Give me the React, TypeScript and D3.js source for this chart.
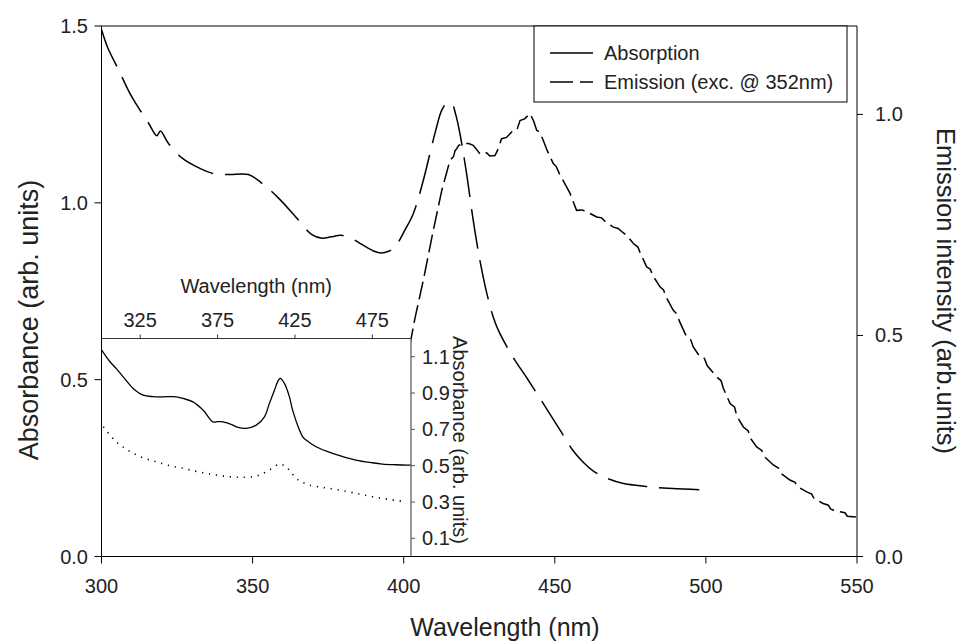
import React from 'react';
import * as d3 from 'd3';

const W = 959;
const H = 643;

// Main plot data: wavelength (nm), absorbance (arb. units, left axis)
const absorptionMain: [number, number][] = [
  [300, 1.49], [302, 1.44], [305.7, 1.375], [310, 1.3], [315.6, 1.225], [318.3, 1.19], [319.5, 1.203],
  [322, 1.17], [326.6, 1.127], [331, 1.104], [336.5, 1.084], [342, 1.08], [348.6, 1.08], [353, 1.056],
  [358.5, 1.014], [364, 0.963], [369.5, 0.911], [373, 0.9], [376, 0.904], [379.4, 0.908], [383, 0.898],
  [386, 0.883], [390, 0.864], [392.6, 0.858], [395, 0.863], [397, 0.874], [400.4, 0.923], [403.2, 0.97],
  [406.5, 1.064], [408.7, 1.14], [410.6, 1.205], [412.6, 1.262], [414.3, 1.282], [415.9, 1.281],
  [417.2, 1.25], [418.6, 1.196], [420.8, 1.083], [423, 0.951], [425.2, 0.838], [427.5, 0.744],
  [429.6, 0.678], [431.3, 0.64], [436, 0.566], [441.2, 0.499], [445.1, 0.447], [451.7, 0.358],
  [455.9, 0.301], [459, 0.27], [463, 0.24], [467, 0.222], [472.4, 0.207], [480.1, 0.198],
  [488.9, 0.192], [499.6, 0.188]
];

// Emission intensity (arb. units, right axis)
const emissionMain: [number, number][] = [
  [380, 0.02], [388, 0.08], [394, 0.2], [398, 0.33], [401, 0.44], [403.7, 0.538], [406.5, 0.625],
  [409.8, 0.738], [412.6, 0.828], [415.3, 0.896], [416.5, 0.905], [417, 0.918], [417.5, 0.922],
  [418.2, 0.93], [419.7, 0.934], [421.5, 0.934], [423, 0.93], [424, 0.922], [425.2, 0.911],
  [426.3, 0.91], [427.5, 0.913], [428.5, 0.906], [430.2, 0.907], [431, 0.918], [432.4, 0.945],
  [434, 0.948], [436.3, 0.964], [437.5, 0.966], [438.5, 0.986], [440, 0.99], [441.8, 1.002],
  [443, 0.985], [444, 0.964], [445, 0.96], [446.2, 0.941], [447.5, 0.918], [449.5, 0.889],
  [450.5, 0.882], [451.5, 0.866], [453.9, 0.836], [455, 0.822], [457.2, 0.783], [459, 0.784],
  [461, 0.778], [463.9, 0.768], [465.5, 0.766], [467, 0.755], [469.4, 0.745], [471, 0.742],
  [472.5, 0.733], [474, 0.725], [476, 0.708], [477.5, 0.7], [478.2, 0.688], [480.4, 0.655],
  [481.6, 0.65], [482.3, 0.637], [484.8, 0.61], [486, 0.603], [486.6, 0.59], [489.2, 0.557],
  [490.5, 0.548], [491.2, 0.533], [493.6, 0.497], [495, 0.49], [495.8, 0.474], [498, 0.452],
  [499.5, 0.448], [500.4, 0.432], [503.6, 0.406], [505, 0.398], [505.8, 0.38], [508, 0.346],
  [509.5, 0.338], [510.2, 0.318], [512.4, 0.293], [514, 0.284], [514.7, 0.268], [516.8, 0.248],
  [518.5, 0.24], [519.3, 0.226], [522.3, 0.207], [524, 0.2], [524.8, 0.188], [527.8, 0.173],
  [529.5, 0.168], [530.3, 0.158], [533.4, 0.146], [535, 0.141], [535.8, 0.131], [538.8, 0.12],
  [540.5, 0.116], [541.3, 0.107], [544.4, 0.101], [546, 0.099], [546.8, 0.091], [549.9, 0.089]
];

// Inset: solid absorbance curve
const insetSolid: [number, number][] = [
  [300.1, 1.136], [305.5, 1.072], [310, 1.03], [314, 0.989], [320.5, 0.925], [326.9, 0.888],
  [333.4, 0.88], [339.8, 0.879], [348.4, 0.879], [352.7, 0.87], [359.1, 0.851], [365.6, 0.806],
  [372, 0.741], [375, 0.742], [378.5, 0.741], [384.9, 0.723], [387.1, 0.714], [393.5, 0.705],
  [400, 0.723], [405.3, 0.769], [408.5, 0.843], [411.8, 0.916], [414, 0.965], [415.5, 0.98],
  [418.2, 0.953], [421.4, 0.88], [423.5, 0.806], [427.9, 0.696], [430, 0.659], [432.2, 0.641],
  [438.6, 0.604], [449.3, 0.568], [464.4, 0.531], [475, 0.516], [481.5, 0.509], [490, 0.505],
  [497.6, 0.503], [500, 0.503]
];

// Inset: dotted absorbance curve
const insetDotted: [number, number][] = [
  [301.2, 0.714], [308.7, 0.638], [314, 0.602], [320.5, 0.568], [328, 0.54], [335.6, 0.521],
  [344, 0.5], [352.7, 0.485], [360, 0.471], [367.8, 0.458], [375, 0.447], [382.8, 0.439],
  [390, 0.436], [397.8, 0.439], [402, 0.448], [406.4, 0.466], [411, 0.49], [415, 0.509],
  [418, 0.5], [421.4, 0.476], [425.7, 0.43], [430, 0.408], [434.3, 0.393], [443, 0.38],
  [453.6, 0.366], [465, 0.347], [475.1, 0.329], [486, 0.314], [496.6, 0.301]
];

const mainXTicks = [300, 350, 400, 450, 500, 550];
const leftYTicks = [0, 0.5, 1.0, 1.5];
const rightYTicks = [0, 0.5, 1.0];
const insetXTicks = [325, 375, 425, 475];
const insetYTicks = [0.1, 0.3, 0.5, 0.7, 0.9, 1.1];

const legendLabels = ['Absorption', 'Emission (exc. @ 352nm)'];

const FONT = "'Liberation Sans', Arial, Helvetica, sans-serif";

export default function App() {
  const L = 101.5, R = 857, T = 26, B = 556.5;
  const x = d3.scaleLinear().domain([300, 550]).range([L, R]);
  const yL = d3.scaleLinear().domain([0, 1.5]).range([B, T]);
  const yR = d3.scaleLinear().domain([0, 1.2]).range([B, T]);

  const iL = L, iR = 411, iT = 338.5, iB = B;
  const xi = d3.scaleLinear().domain([300, 500]).range([iL, iR]);
  const yi = d3.scaleLinear().domain([0, 1.2]).range([iB, iT]);

  const absLine = d3.line<[number, number]>().x(d => x(d[0])).y(d => yL(d[1])).curve(d3.curveCatmullRom.alpha(0.5));
  const emLine = d3.line<[number, number]>().x(d => x(d[0])).y(d => yR(d[1]));
  const inSolidLine = d3.line<[number, number]>().x(d => xi(d[0])).y(d => yi(d[1])).curve(d3.curveCatmullRom.alpha(0.5));
  const inDotLine = d3.line<[number, number]>().x(d => xi(d[0])).y(d => yi(d[1])).curve(d3.curveCatmullRom.alpha(0.5));

  const tickFs = 20;

  return (
    <svg width={W} height={H} style={{ position: 'absolute', left: 0, top: 0, background: '#fff' }} fontFamily={FONT}>
      <rect x={0} y={0} width={W} height={H} fill="#fff" />
      {/* main curves */}
      <path d={absLine(absorptionMain) || ''} fill="none" stroke="#000" strokeWidth={1.5} strokeDasharray="40,12" />
      <path d={emLine(emissionMain) || ''} fill="none" stroke="#000" strokeWidth={1.5} strokeDasharray="18,6" />

      {/* inset */}
      <rect x={iL} y={iT} width={iR - iL} height={iB - iT} fill="#fff" />
      <path d={inSolidLine(insetSolid) || ''} fill="none" stroke="#000" strokeWidth={1.3} />
      <path d={inDotLine(insetDotted) || ''} fill="none" stroke="#000" strokeWidth={1.6} strokeDasharray="1.2,5.8" />
      <line x1={iL} x2={iR} y1={iT} y2={iT} stroke="#333" strokeWidth={1} />
      <line x1={iR} x2={iR} y1={iT} y2={iB} stroke="#555" strokeWidth={1.2} />
      {insetXTicks.map(t => (
        <g key={'ix' + t}>
          <line x1={xi(t)} x2={xi(t)} y1={iT} y2={iT - 4} stroke="#333" />
          <text x={xi(t)} y={iT - 12} textAnchor="middle" fontSize={tickFs} fill="#222">{t}</text>
        </g>
      ))}
      <text x={(iL + iR) / 2} y={293} textAnchor="middle" fontSize={20} fill="#222">Wavelength (nm)</text>
      {insetYTicks.map(t => (
        <g key={'iy' + t}>
          <line x1={iR} x2={iR + 4} y1={yi(t)} y2={yi(t)} stroke="#555" />
          <text x={iR + 11} y={yi(t)} dominantBaseline="central" fontSize={tickFs} fill="#222">{t.toFixed(1)}</text>
        </g>
      ))}
      <text transform={`translate(460,440) rotate(90)`} textAnchor="middle" dominantBaseline="central" fontSize={20} fill="#222">Absorbance (arb. units)</text>

      {/* main frame */}
      <line x1={L} x2={R} y1={T} y2={T} stroke="#000" strokeWidth={1} />
      <line x1={L} x2={L} y1={T} y2={B} stroke="#000" strokeWidth={1} />
      <line x1={R} x2={R} y1={T} y2={B} stroke="#000" strokeWidth={1} />
      <line x1={L} x2={R} y1={B} y2={B} stroke="#000" strokeWidth={1} />
      {mainXTicks.map(t => (
        <g key={'x' + t}>
          <line x1={x(t)} x2={x(t)} y1={B} y2={B + 7} stroke="#000" />
          <text x={x(t)} y={586} textAnchor="middle" dominantBaseline="central" fontSize={tickFs} fill="#222">{t}</text>
        </g>
      ))}
      {leftYTicks.map(t => (
        <g key={'yl' + t}>
          <line x1={L - 7} x2={L} y1={yL(t)} y2={yL(t)} stroke="#000" />
          <text x={88} y={yL(t)} textAnchor="end" dominantBaseline="central" fontSize={tickFs} fill="#222">{t.toFixed(1)}</text>
        </g>
      ))}
      {rightYTicks.map(t => (
        <g key={'yr' + t}>
          <line x1={R} x2={R + 6} y1={yR(t)} y2={yR(t)} stroke="#000" />
          <text x={875} y={yR(t)} dominantBaseline="central" fontSize={tickFs} fill="#222">{t.toFixed(1)}</text>
        </g>
      ))}
      <text x={505} y={636} textAnchor="middle" fontSize={25} fill="#222">Wavelength (nm)</text>
      <text transform={`translate(29,320) rotate(-90)`} textAnchor="middle" dominantBaseline="central" fontSize={27} fill="#222">Absorbance (arb. units)</text>
      <text transform={`translate(946,291) rotate(90)`} textAnchor="middle" dominantBaseline="central" fontSize={25.5} fill="#222">Emission intensity (arb.units)</text>

      {/* legend */}
      <rect x={534} y={T} width={313} height={76} fill="#fff" stroke="#000" strokeWidth={1} />
      <line x1={550} x2={593} y1={53} y2={53} stroke="#000" strokeWidth={1.5} />
      <line x1={550} x2={593} y1={82} y2={82} stroke="#000" strokeWidth={1.5} strokeDasharray="23,7" />
      <text x={604} y={53} dominantBaseline="central" fontSize={20} fill="#222">{legendLabels[0]}</text>
      <text x={604} y={82} dominantBaseline="central" fontSize={20} fill="#222">{legendLabels[1]}</text>
    </svg>
  );
}
